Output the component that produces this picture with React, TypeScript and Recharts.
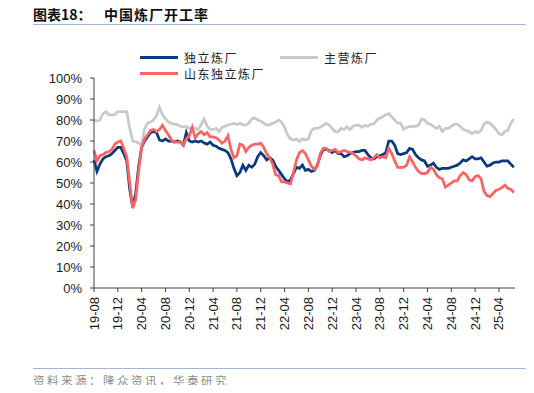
import { LineChart, Line, XAxis, YAxis } from 'recharts';

// x tick labels, one every 4 months starting 2019-08
const tickLabels = [
  '19-08', '19-12', '20-04', '20-08', '20-12', '21-04', '21-08', '21-12', '22-04',
  '22-08', '22-12', '23-04', '23-08', '23-12', '24-04', '24-08', '24-12', '25-04',
];
const yTicks = [0, 10, 20, 30, 40, 50, 60, 70, 80, 90, 100];

// operating rates (%), sampled twice a month from 2019-08
const independent = [
  61, 55.5, 59, 61.5, 62.5, 63, 64, 65.5,
  67, 67, 64, 60.5, 47, 38.5, 45, 58,
  67, 70, 72, 74, 74.5, 74, 70.5, 70,
  71, 70, 70, 69.5, 70, 69.5, 68, 74,
  70, 69.5, 70, 69.5, 70, 69, 68.5, 69.5,
  68, 67.5, 66.5, 66, 65.5, 64.5, 61.5, 57,
  53.5, 55, 58.5, 56, 58.5, 57.5, 59, 62.5,
  64.5, 63, 61, 62, 61, 58, 56, 54,
  52, 50.5, 51.5, 54.5, 57.5, 57, 58.5, 56,
  56.5, 55.5, 56, 58.5, 63, 66, 66, 65.5,
  64.5, 65.5, 64, 64, 62.5, 63, 64, 64.5,
  65, 65, 65.5, 65.5, 63.5, 62, 61.5, 62.5,
  63, 63.5, 64.5, 70, 70, 68, 64, 63.5,
  64, 64.5, 66.5, 66, 63.5, 62, 61, 60.5,
  58, 58.5, 59.5, 57.5, 56.5, 57, 57, 57,
  57.5, 58, 58.5, 59.5, 61, 60.5, 61.5, 62.5,
  61.5, 61.5, 62, 60, 58, 58.5, 59.5, 60,
  60, 60.5, 60.5, 60.5, 59, 57.5,
];

const stateOwned = [
  80, 79.5, 80, 83, 84, 82.5, 82.5, 82.5,
  84, 84, 84, 84, 76, 70, 69.5, 69,
  68, 76, 78.5, 79, 80, 82, 86, 82.5,
  80.5, 79, 78.4, 78, 77.8, 77, 76.8, 76.8,
  76, 76, 76, 75.5, 78, 80.5, 77, 75.5,
  75.5, 76, 74.5, 76.5, 77, 77.6, 78, 78.4,
  78, 78.4, 77.8, 77.6, 78.5, 80.5, 81, 80,
  79.5, 78.4, 77.6, 77.8, 78.4, 79, 80, 79,
  76.5, 73, 71, 70.5, 71, 69.7, 71, 70.5,
  71, 75, 76, 76, 76.5, 77.5, 78.4, 77.6,
  76, 74.5, 74.4, 76, 75.5, 76.8, 75.5, 77,
  77.6, 77.6, 76.5, 77.5, 77, 78, 78, 80,
  80.8, 81.5, 82.5, 83, 81.5, 80, 78.5, 78.5,
  75.5, 76.5, 76.8, 77, 77, 77.5, 80.5, 80,
  78.4, 78, 77, 76, 77, 74.5, 76, 76,
  77, 78, 78, 77, 75.5, 75, 74.5, 73.5,
  74.5, 74, 75, 78, 79, 78.5, 77, 75.5,
  73.5, 73, 74.5, 75, 78.5, 80.5,
];

const shandong = [
  65.5, 60.5, 63, 63.5, 64.5, 65, 66, 68.5,
  69.5, 70, 66.5, 62.5, 50, 38, 42, 56,
  67, 71, 73, 75, 75.5, 74.5, 75.5, 77.5,
  75, 73, 70.5, 69.5, 69.5, 69.5, 68, 71,
  72.5, 76.5, 71.5, 73.5, 74.5, 73, 74, 72,
  72, 71.5, 70.5, 69, 70, 72.5, 66, 62,
  63, 68.5, 68, 65, 67, 68, 68.5, 68.5,
  69, 67, 64, 62, 59, 54, 53.5, 50.5,
  50.5, 50, 49.5, 55, 61, 64.5, 65.5, 64,
  61, 58, 56.5, 58, 64, 66.5, 66.5, 65,
  65.5, 66, 64.5, 65, 65.5, 65, 64.5, 64,
  63, 61.5, 61, 62, 61.5, 61, 62, 63.5,
  62, 62.5, 62, 66.5, 64, 60.5, 57.5, 57.5,
  57.5, 58.5, 62.5, 60, 57.5, 55.5, 54.5, 54.5,
  55, 57.5, 56.5, 54, 52.5, 52, 48, 49,
  50, 51, 51, 53.5, 55, 54, 51.5, 51,
  53, 53.5, 52, 46, 44, 43.5, 45, 46.5,
  47, 47.8, 49, 47.5, 47, 45.5,
];

const data = independent.map((v, i) => ({
  t: i / 2,
  independent: v,
  stateOwned: stateOwned[i],
  shandong: shandong[i],
}));

const BLUE = '#0b3a7c';
const GRAY = '#c9c9c9';
const RED = '#fb6464';
const numFont = '"Liberation Sans", Arial, sans-serif';
const cjkFont = '"Noto Sans CJK SC", sans-serif';

const XTick = (props: any) => {
  const { x, y, payload } = props;
  return (
    <text
      transform={`translate(${x + 4.5},${y + 3}) rotate(-90)`}
      textAnchor="end"
      fontSize={13}
      fontFamily={numFont}
      fill="#1a1a1a"
    >
      {tickLabels[Math.round(payload.value / 4)]}
    </text>
  );
};

const legendItems = [
  { name: '独立炼厂', color: BLUE, left: 140, top: 49 },
  { name: '主营炼厂', color: GRAY, left: 280, top: 49 },
  { name: '山东独立炼厂', color: RED, left: 140, top: 65 },
];

export default function App() {
  return (
    <div style={{ position: 'relative', width: 534, height: 393, margin: -8, background: '#fff', overflow: 'hidden' }}>
      <div style={{ position: 'absolute', left: 33, top: 4, fontFamily: cjkFont, fontWeight: 700, fontSize: 14, color: '#111', whiteSpace: 'pre' }}>
        图表18：
      </div>
      <div style={{ position: 'absolute', left: 104, top: 4, fontFamily: cjkFont, fontWeight: 700, fontSize: 14, letterSpacing: 1, color: '#111' }}>
        中国炼厂开工率
      </div>
      <div style={{ position: 'absolute', left: 33, right: 0, top: 24, height: 1, background: '#a3b9d3' }} />
      <div style={{ position: 'absolute', left: 0, top: 0 }}>
        <LineChart width={534} height={393} data={data} margin={{ top: 78, right: 19, bottom: 75, left: 0 }}>
          <XAxis
            dataKey="t"
            type="number"
            domain={[0, 70.7]}
            ticks={tickLabels.map((_, i) => i * 4)}
            tick={<XTick />}
            tickSize={4}
            tickMargin={2}
            axisLine={{ stroke: '#404040' }}
            tickLine={{ stroke: '#404040' }}
            interval={0}
            height={30}
          />
          <YAxis
            type="number"
            domain={[0, 100]}
            ticks={yTicks}
            tickFormatter={(v) => `${v}%`}
            width={94}
            tickSize={4}
            tickMargin={8}
            interval={0}
            axisLine={{ stroke: '#404040' }}
            tickLine={{ stroke: '#404040' }}
            tick={{ fontSize: 13, fontFamily: numFont, fill: '#1a1a1a' }}
          />
          <Line dataKey="independent" name="独立炼厂" stroke={BLUE} strokeWidth={2.75} dot={false} isAnimationActive={false} />
          <Line dataKey="stateOwned" name="主营炼厂" stroke={GRAY} strokeWidth={2.75} dot={false} isAnimationActive={false} />
          <Line dataKey="shandong" name="山东独立炼厂" stroke={RED} strokeWidth={2.75} dot={false} isAnimationActive={false} />
        </LineChart>
      </div>
      {legendItems.map((it) => (
        <div key={it.name} style={{ position: 'absolute', left: it.left, top: it.top, display: 'flex', alignItems: 'center', height: 16 }}>
          <div style={{ width: 38, height: 3, background: it.color }} />
          <span style={{ marginLeft: 6, fontFamily: cjkFont, fontSize: 12, letterSpacing: 1.5, color: '#222' }}>{it.name}</span>
        </div>
      ))}
      <div style={{ position: 'absolute', left: 33, right: 0, top: 368, height: 1, background: '#a3b9d3' }} />
      <div style={{ position: 'absolute', left: 33, top: 372, fontFamily: cjkFont, fontSize: 11.5, letterSpacing: 2.5, color: '#8c8c8c' }}>
        资料来源：隆众资讯，华泰研究
      </div>
    </div>
  );
}
